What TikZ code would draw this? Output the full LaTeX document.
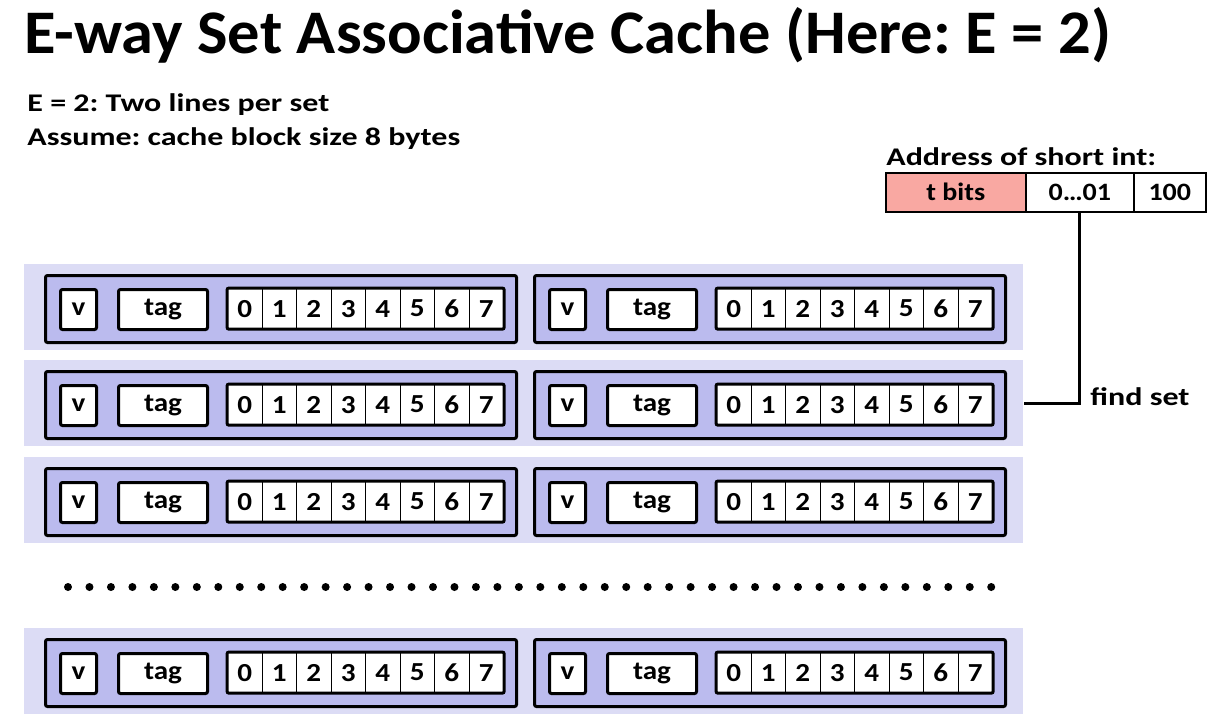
\documentclass[tikz,border=0pt]{standalone}
\usepackage{fontspec}
\setmainfont{Carlito}
\newfontfamily\titlefont{Carlito}[FakeStretch=1.04]
\newfontfamily\labelfont{Carlito}[FakeStretch=1.26]
\newfontfamily\cellfont{Carlito}[FakeStretch=1.12]
\usetikzlibrary{positioning}
\frenchspacing

\definecolor{setbg}{HTML}{DCDCF5}
\definecolor{linebg}{HTML}{BBBBEE}
\definecolor{tbitsbg}{HTML}{F9A8A2}

\tikzset{
  setrow/.style={fill=setbg, inner sep=0, minimum width=499.5pt, minimum height=43pt},
  cacheline/.style={draw, line width=1.5pt, fill=linebg, rounded corners=1pt, inner sep=0,
    minimum width=235.5pt, minimum height=33.5pt},
  field/.style={draw, line width=1.5pt, fill=white, rounded corners=1pt, inner sep=0,
    minimum height=20pt, font=\cellfont\bfseries\fontsize{13}{14}\selectfont},
  bytecell/.style={draw, line width=0.6pt, fill=white, inner sep=0,
    minimum width=17.25pt, minimum height=20pt, font=\cellfont\bfseries\fontsize{13}{14}\selectfont},
  addrcell/.style={draw, line width=0.8pt, inner sep=0, minimum height=19.5pt,
    font=\cellfont\bfseries\fontsize{12.5}{14}\selectfont},
  txt/.style={inner sep=0, anchor=base west, font=\labelfont\bfseries\fontsize{12.7}{15}\selectfont}
}

\begin{document}
\begin{tikzpicture}[x=0.5pt, y=-0.5pt]
    \useasboundingbox (0,0) rectangle (1218,723);

    % Titel und Text
    \node[txt, font=\titlefont\bfseries\fontsize{31}{36}\selectfont] (title) at (24,53)
        {E-way Set Associative Cache (Here: E = 2)};
    \node[txt] (info1) at (27,111) {E = 2: Two lines per set};
    \node[txt] (info2) at (27,145) {Assume: cache block size 8 bytes};

    % Adresse
    \node[txt] (addrlbl) at (886,165) {Address of short int:};
    \node[addrcell, fill=tbitsbg, minimum width=70pt, anchor=north west] (fld1) at (885,172) {t bits};
    \node[addrcell, minimum width=54pt, anchor=north west] (fld2) at (1025,172) {0\ldots01};
    \node[addrcell, minimum width=36pt, anchor=north west] (fld3) at (1133,172) {100};

    % Sets mit je zwei Zeilen
    \foreach \r/\y in {1/264, 2/360, 3/457, 4/628} {
        \node[setrow, anchor=north west] (set\r) at (24,\y) {};
        \foreach \w/\dx in {1/0, 2/489} {
            \node[cacheline, anchor=north west] (line\r\w) at (44+\dx,\y+10) {};
            \node[field, minimum width=18pt, anchor=north west] (v\r\w) at (59+\dx,\y+24) {v};
            \node[field, minimum width=44.5pt, anchor=north west] (tag\r\w) at (117+\dx,\y+24) {tag};
            \foreach \b in {0,...,7}
                \node[bytecell, anchor=north west] (b\r\w\b) at (227+\dx+\b*34.5,\y+24) {\b};
            \draw[line width=1.5pt, rounded corners=1pt] (b\r\w0.north west) rectangle (b\r\w7.south east);
        }
    }

    % Punkte
    \foreach \i in {0,...,43}
        \fill (68+\i*21.47,587) circle (2pt);

    % find set
    \draw[line width=1.5pt] (fld2.south) |- (set2.east);
    \node[txt] (findlbl) at (1090,405) {find set};
\end{tikzpicture}
\end{document}
